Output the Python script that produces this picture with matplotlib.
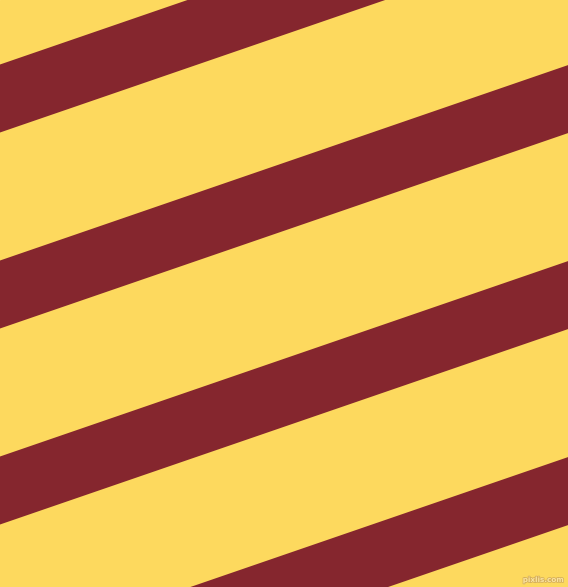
import matplotlib
matplotlib.use("Agg")
import matplotlib.pyplot as plt
import matplotlib.patheffects as pe
import numpy as np

stripe_top_at_left = [-131.5, 64.5, 260.5, 456.5, 652.5]
stripe_height = 68
stripe_slope = 0.344  # rise per pixel, going right the stripes move up

bg_color = '#FDD95E'
stripe_color = '#85262E'

W, H = 568, 587
fig = plt.figure(figsize=(W / 100, H / 100), dpi=100)
ax = fig.add_axes([0, 0, 1, 1])
ax.set_xlim(0, W)
ax.set_ylim(H, 0)
ax.axis('off')
ax.add_patch(plt.Rectangle((0, 0), W, H, color=bg_color, zorder=0))

x = np.array([0, W])
for top in stripe_top_at_left:
    y1 = top - stripe_slope * x
    ax.fill_between(x, y1, y1 + stripe_height, color=stripe_color, lw=0, zorder=1)

ax.text(W - 4, H - 4, 'pixlis.com', ha='right', va='bottom', fontsize=5.2,
        color='#FBE3A0', fontweight='bold', zorder=2,
        path_effects=[pe.withStroke(linewidth=1.1, foreground='#D4AE5C')])

fig.savefig('out.png', dpi=100)
